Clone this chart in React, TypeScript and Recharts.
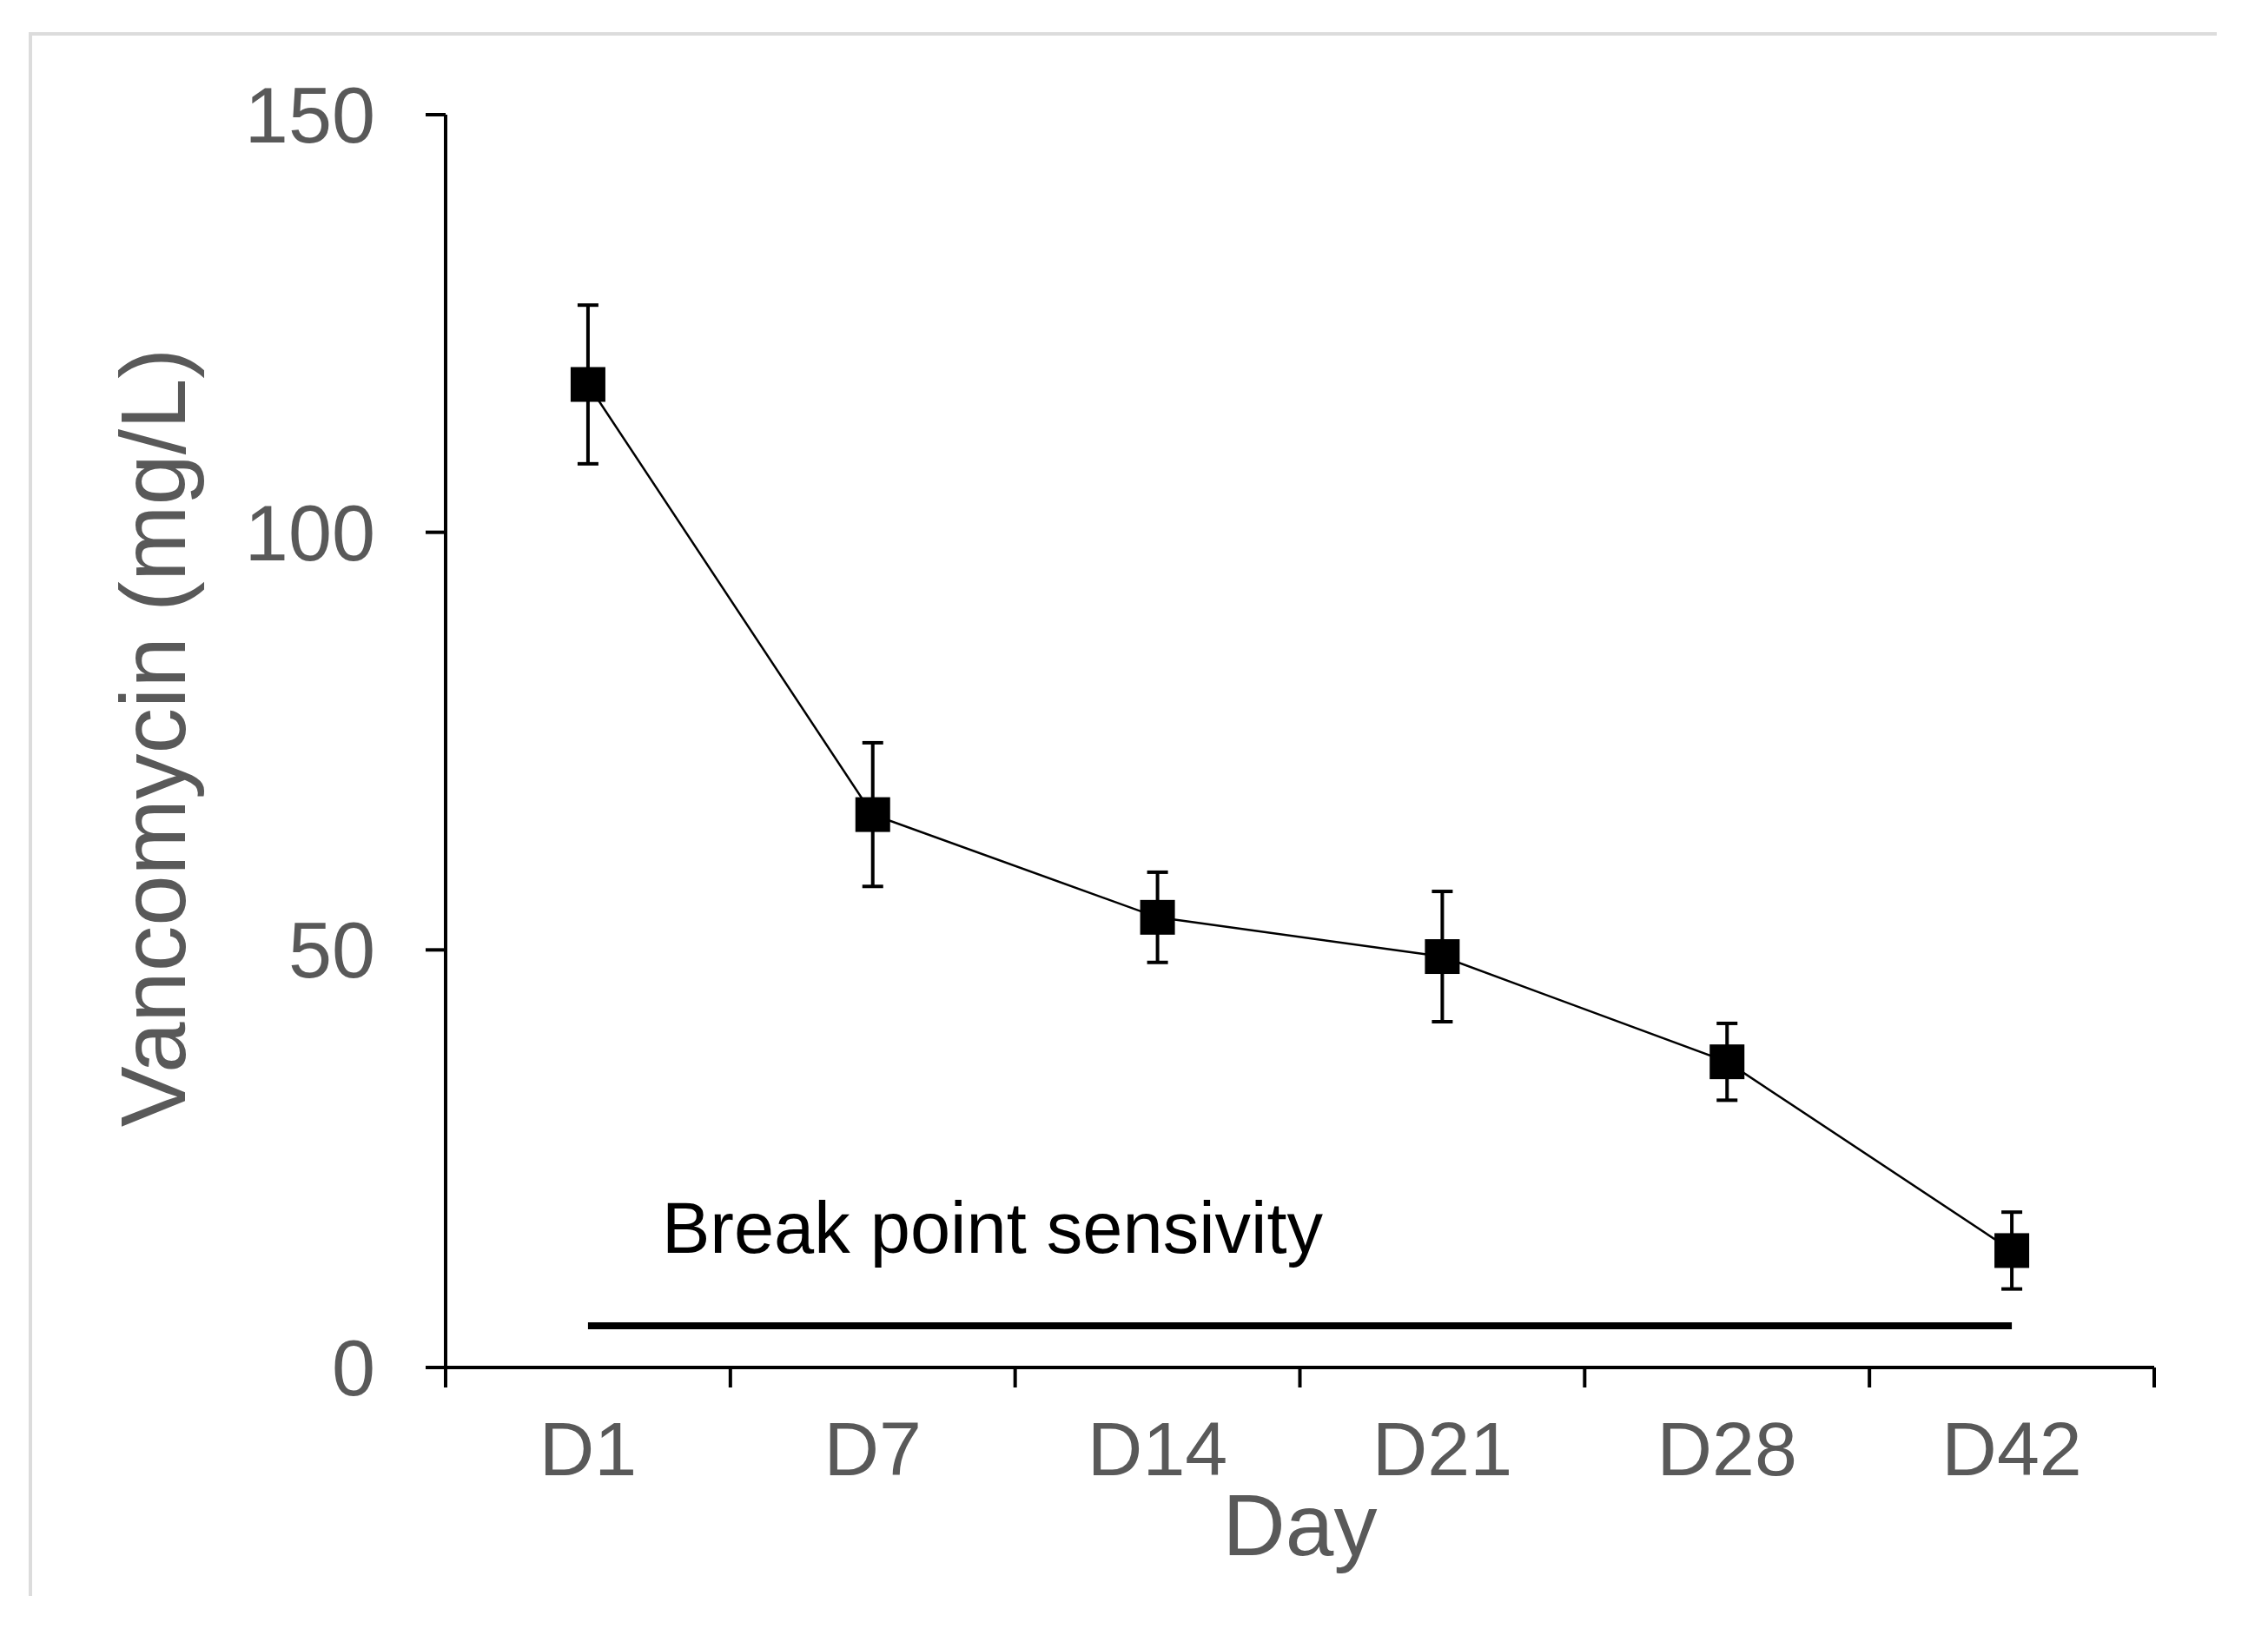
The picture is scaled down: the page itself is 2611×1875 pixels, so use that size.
import React from "react";
import {
  LineChart,
  Line,
  XAxis,
  YAxis,
  ErrorBar,
} from "recharts";

// sampling days and measured vancomycin levels (mg/L)
const days = ["D1", "D7", "D14", "D21", "D28", "D42"];
const vancomycin = [117.7, 66.2, 53.9, 49.2, 36.6, 14.0];
const errors = [9.5, 8.6, 5.4, 7.8, 4.6, 4.6];
const breakPoint = [5, 5, 5, 5, 5, 5];
const yTicks = [0, 50, 100, 150];
const bandEdges = [0, 1, 2, 3, 4, 5, 6];

const FONT = "'Liberation Sans', Arial, sans-serif";
const GREY = "#595959";

const data = days.map((d, i) => ({
  pos: i + 0.5,
  day: d,
  value: vancomycin[i],
  err: errors[i],
  bp: breakPoint[i],
}));

const xTicks = [...bandEdges, ...days.map((_, i) => i + 0.5)].sort((a, b) => a - b);

const XTick = (props: any) => {
  const { x, y, payload } = props;
  const v = payload.value;
  if (Number.isInteger(v)) {
    return <line x1={x} x2={x} y1={y} y2={y + 23} stroke="#000" strokeWidth={4} />;
  }
  return (
    <text x={x} y={y + 124} textAnchor="middle" fill={GREY} fontSize={88} fontFamily={FONT}>
      {days[Math.floor(v)]}
    </text>
  );
};

const SquareDot = (props: any) => {
  const { cx, cy, index } = props;
  return <rect key={index} x={cx - 20} y={cy - 20} width={40} height={40} fill="#000" />;
};

const BreakLabel = (props: any) => {
  const { x, y, index } = props;
  if (index !== 0) return null;
  return (
    <text x={x + 85} y={y - 84} fill="#000" fontSize={83} fontFamily={FONT}>
      Break point sensivity
    </text>
  );
};

const App = () => {
  return (
    <div style={{ position: "fixed", left: 0, top: 0, width: 2611, height: 1875, background: "#fff" }}>
      <div
        style={{
          position: "absolute",
          left: 33,
          top: 37,
          width: 2515,
          height: 1796,
          borderTop: "4px solid #dcdcdc",
          borderLeft: "4px solid #dcdcdc",
        }}
      />
      <div style={{ position: "absolute", left: 0, top: 0 }}>
        <LineChart
          width={2611}
          height={1875}
          data={data}
          margin={{ top: 132, right: 131, left: 313, bottom: 101 }}
        >
          <XAxis
            dataKey="pos"
            type="number"
            domain={[0, 6]}
            ticks={xTicks}
            interval={0}
            height={200}
            tickSize={0}
            tickMargin={0}
            tickLine={false}
            axisLine={{ stroke: "#000", strokeWidth: 4 }}
            tick={<XTick />}
            label={(p: any) => {
              const vb = p.viewBox || {};
              return (
                <text
                  x={vb.x + vb.width / 2}
                  y={1790}
                  textAnchor="middle"
                  fill={GREY}
                  fontSize={100}
                  fontFamily={FONT}
                >
                  Day
                </text>
              );
            }}
          />
          <YAxis
            type="number"
            domain={[0, 150]}
            ticks={yTicks}
            width={200}
            tickSize={23}
            tickMargin={58}
            axisLine={{ stroke: "#000", strokeWidth: 4 }}
            tickLine={{ stroke: "#000", strokeWidth: 4 }}
            tick={{ fill: GREY, fontSize: 90, fontFamily: FONT }}
            label={(p: any) => {
              const vb = p.viewBox || {};
              const cy = vb.y + vb.height / 2;
              return (
                <text
                  transform={`translate(213, ${cy - 4}) rotate(-90)`}
                  textAnchor="middle"
                  fill={GREY}
                  fontSize={105}
                  fontFamily={FONT}
                >
                  Vancomycin (mg/L)
                </text>
              );
            }}
          />
          <Line
            dataKey="bp"
            type="linear"
            stroke="#000"
            strokeWidth={8}
            dot={false}
            activeDot={false}
            label={<BreakLabel />}
            isAnimationActive={false}
          />
          <Line
            dataKey="value"
            type="linear"
            stroke="#000"
            strokeWidth={2.5}
            dot={<SquareDot />}
            activeDot={false}
            isAnimationActive={false}
          >
            <ErrorBar
              dataKey="err"
              direction="y"
              width={12}
              stroke="#000"
              strokeWidth={4}
              isAnimationActive={false}
            />
          </Line>
        </LineChart>
      </div>
    </div>
  );
};

export default App;
